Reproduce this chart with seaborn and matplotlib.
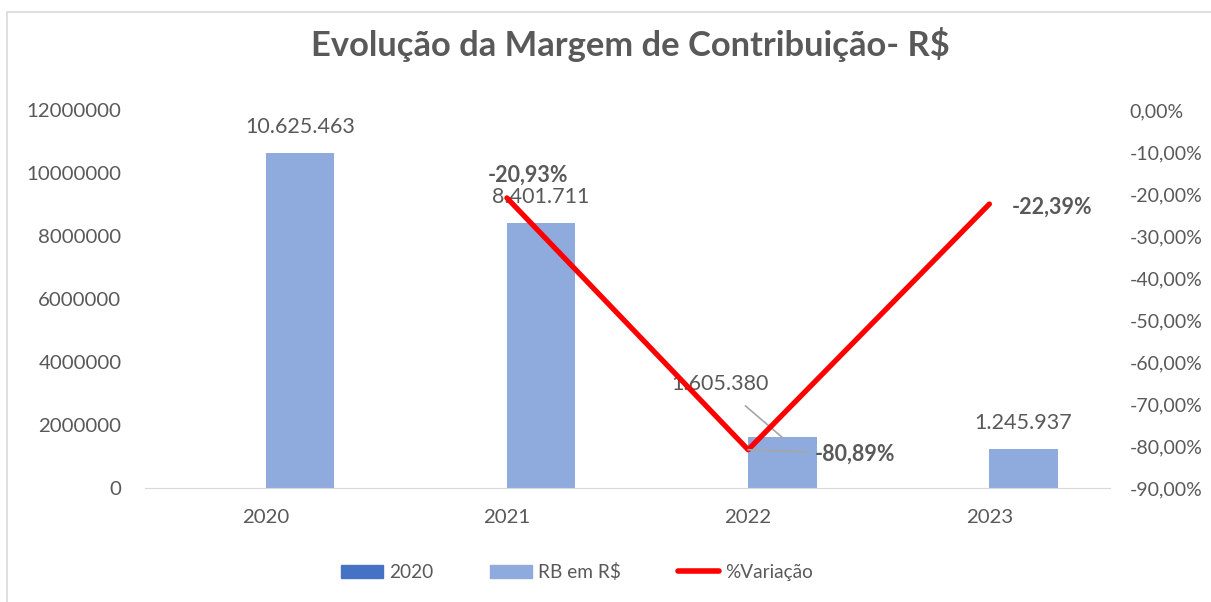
import pandas as pd
import matplotlib.pyplot as plt
import seaborn as sns
from matplotlib.patches import Patch, Rectangle
from matplotlib.lines import Line2D
from matplotlib.ticker import FuncFormatter, MultipleLocator

anos = ['2020', '2021', '2022', '2023']
serie_2020 = [0, 0, 0, 0]
rb_reais = [10625463, 8401711, 1605380, 1245937]
variacao_anos = ['2021', '2022', '2023']
variacao = [-0.2093, -0.8089, -0.2239]

sns.set_style('white')
plt.rcParams['font.family'] = ['Lato', 'DejaVu Sans']

cinza = '#595959'
azul_escuro = '#4472C4'
azul_claro = '#8FAADC'
vermelho = '#FF0000'

df = pd.DataFrame({
    'ano': anos * 2,
    'valor': serie_2020 + rb_reais,
    'serie': ['2020'] * 4 + ['RB em R$'] * 4,
})

fig = plt.figure(figsize=(12.11, 6.02), dpi=100)
fig.patches.append(Rectangle((7 / 1211, -0.1), 1.1, 1 - 12 / 602 + 0.1,
                             transform=fig.transFigure, fill=False,
                             edgecolor='#D9D9D9', linewidth=1.2))

ax = fig.add_axes([145 / 1211, 1 - 488 / 602, 965 / 1211, 378 / 602])
sns.barplot(data=df, x='ano', y='valor', hue='serie', ax=ax, width=0.567,
            palette={'2020': azul_escuro, 'RB em R$': azul_claro},
            saturation=1, legend=False, linewidth=0)
ax.set_ylim(0, 12000000)
ax.yaxis.set_major_locator(MultipleLocator(2000000))
ax.yaxis.set_major_formatter(FuncFormatter(lambda v, p: f'{int(v)}'))
ax.set_xlabel('')
ax.set_ylabel('')
for s in ['top', 'right', 'left']:
    ax.spines[s].set_visible(False)
ax.spines['bottom'].set_color('#D9D9D9')
ax.tick_params(axis='both', length=0, labelsize=14.7, colors=cinza)
ax.tick_params(axis='x', pad=15)
ax.tick_params(axis='y', pad=17)

# rótulos das barras
barras = ax.containers[1]
for i, (b, v) in enumerate(zip(barras, rb_reais)):
    txt = f'{v:,}'.replace(',', '.')
    cx = b.get_x() + b.get_width() / 2
    if i == 2:
        ax.annotate(txt, (cx, v), xytext=(-62, 53), textcoords='offset pixels',
                    ha='center', va='center', fontsize=15.5, color=cinza,
                    arrowprops=dict(arrowstyle='-', color='#A6A6A6', lw=1.2,
                                    shrinkA=9, shrinkB=0))
    else:
        ax.annotate(txt, (cx, v), xytext=(0, 26), textcoords='offset pixels',
                    ha='center', va='center', fontsize=15.5, color=cinza)

ax2 = ax.twinx()
sns.lineplot(x=[anos.index(a) for a in variacao_anos], y=variacao, ax=ax2,
             color=vermelho, linewidth=3.8)
ax2.set_ylim(-0.9, 0)
ax2.yaxis.set_major_locator(MultipleLocator(0.1))
ax2.yaxis.set_major_formatter(
    FuncFormatter(lambda v, p: f'{v * 100:.2f}%'.replace('.', ',')))
for s in ax2.spines.values():
    s.set_visible(False)
ax2.tick_params(axis='y', length=0, labelsize=14, colors=cinza, pad=14)
ax.set_xlim(-0.5, 3.5)

# rótulos da variação
xs = [anos.index(a) for a in variacao_anos]
ax2.annotate('-20,93%', (xs[0], variacao[0]), xytext=(21, 23),
             textcoords='offset pixels', ha='center', va='center',
             fontsize=15.5, fontweight='bold', color=cinza)
ax2.annotate('-80,89%', (xs[1], variacao[1]), xytext=(67, -4),
             textcoords='offset pixels', ha='left', va='center',
             fontsize=15.5, fontweight='bold', color=cinza,
             arrowprops=dict(arrowstyle='-', color='#A6A6A6', lw=1.2,
                             shrinkA=2, shrinkB=0))
ax2.annotate('-22,39%', (xs[2], variacao[2]), xytext=(22, -3),
             textcoords='offset pixels', ha='left', va='center',
             fontsize=15.5, fontweight='bold', color=cinza)

fig.text(630 / 1211, 1 - 45 / 602, 'Evolução da Margem de Contribuição- R$',
         ha='center', va='center', fontsize=24.8, fontweight='bold', color=cinza)

handles = [Patch(color=azul_escuro, label='2020'),
           Patch(color=azul_claro, label='RB em R$'),
           Line2D([0], [0], color=vermelho, lw=4, solid_capstyle='round',
                  label='%Variação')]
fig.legend(handles=handles, loc='center', bbox_to_anchor=(577 / 1211, 1 - 572 / 602),
           ncol=3, frameon=False, fontsize=13.7, labelcolor=cinza,
           columnspacing=3.0, handlelength=2.2, handletextpad=0.3)

fig.savefig('out.png', dpi=100)
